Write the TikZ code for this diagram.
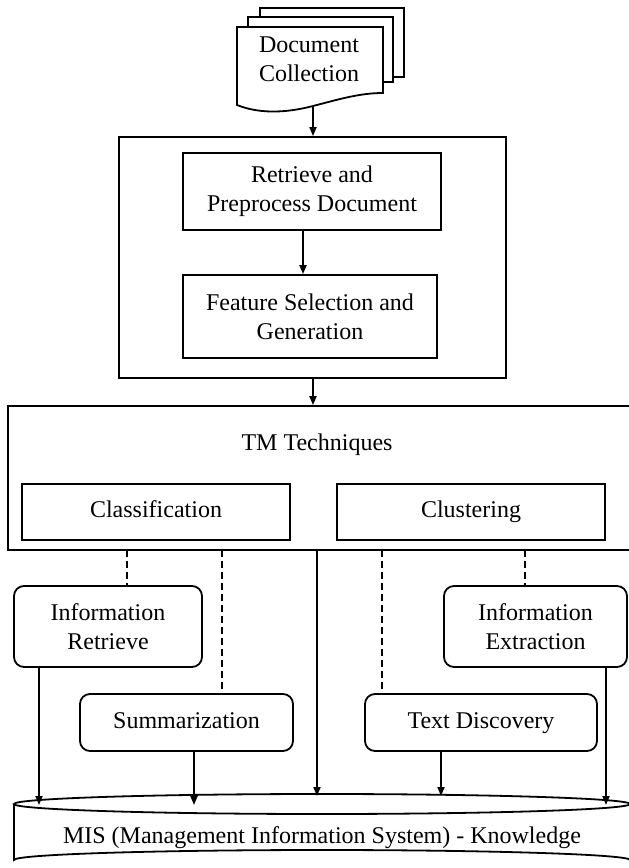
\documentclass[tikz,border=0pt]{standalone}
\usepackage{fontspec}
\setmainfont{Liberation Serif}
\usetikzlibrary{arrows.meta}
\begin{document}
\begin{tikzpicture}[x=1pt,y=-1pt,
  line width=1.8pt,
  every node/.style={font=\fontsize{24}{29}\selectfont, align=center, inner sep=0pt},
  one line/.style={text height=16pt, text depth=5pt},
  box/.style={draw, fill=white},
  rbox/.style={draw, fill=white, rounded corners=10pt},
  arr/.style={-{Triangle[length=9pt,width=7pt]}},
  dash line/.style={dashed, dash pattern=on 7pt off 4pt}]
\useasboundingbox (0,0) rectangle (629,868);

% stacked document symbol
\draw[fill=white] (260,8) rectangle (404,77);
\draw[fill=white] (248,17) rectangle (393,82);
\draw[fill=white] (237,27) -- (383,27) -- (383,93)
  .. controls (360,93) and (340,99) .. (313,106)
  .. controls (290,112) and (262,115) .. (237,105) -- cycle;
\node (doc) at (309,59) {Document\\Collection};
\coordinate (docb) at (313,106);

% preprocessing block
\node[box, minimum width=387pt, minimum height=241pt] (pre) at (312.5,257.5) {};
\node[box, minimum width=258pt, minimum height=77pt] (ret) at (312,191.5) {Retrieve and\\Preprocess Document};
\node[box, minimum width=254pt, minimum height=83pt] (feat) at (310,316.5) {Feature Selection and\\Generation};

% techniques block
\node[box, minimum width=630pt, minimum height=144pt] (tm) at (323,478) {};
\node[one line] (tmlabel) at (317,445) {TM Techniques};
\node[box, one line, minimum width=268pt, minimum height=56pt] (cls) at (156,512) {Classification};
\node[box, one line, minimum width=268pt, minimum height=56pt] (clu) at (471,512) {Clustering};

% applications
\node[rbox, minimum width=188pt, minimum height=81pt] (ir) at (108,626.5) {Information\\Retrieve};
\node[rbox, minimum width=183pt, minimum height=81pt] (ie) at (535.5,626.5) {Information\\Extraction};
\node[rbox, one line, minimum width=213pt, minimum height=57pt] (sum) at (186.5,722.5) {Summarization};
\node[rbox, one line, minimum width=232pt, minimum height=57pt] (td) at (481,722.5) {Text Discovery};

% knowledge store (cylinder)
\draw[fill=white] (14,804) -- (14,860) arc[start angle=180, end angle=360, x radius=308, y radius=10] -- (630,804);
\draw[fill=white] (322,804) ellipse[x radius=308, y radius=10];
\node[one line] (mis) at (322,838) {MIS (Management Information System) - Knowledge};

% end points on the store
\coordinate (k1) at (39,805);
\coordinate (k2) at (194,805);
\coordinate (k3) at (317,796);
\coordinate (k4) at (441,796);
\coordinate (k5) at (606,805);

% flow connectors
\draw[arr] (docb) -- (pre.north -| docb);
\draw[arr] ([xshift=-9pt]ret.south) -- ([xshift=-9pt]ret.south |- feat.north);
\draw[arr] (pre.south -| docb) -- (tm.north -| docb);

% dashed links from techniques
\draw[dash line] (127,550) coordinate (d1) -- (d1 |- ir.north);
\draw[dash line] (222,550) coordinate (d2) -- (d2 |- sum.north);
\draw[dash line] (382,550) coordinate (d3) -- (d3 |- td.north);
\draw[dash line] (525,550) coordinate (d4) -- (d4 |- ie.north);

% results into the store
\draw[arr] (ir.south -| k1) -- (k1);
\draw[arr] (sum.south -| k2) -- (k2);
\draw[arr] (tm.south -| k3) -- (k3);
\draw[arr] (td.south -| k4) -- (k4);
\draw[arr] (ie.south -| k5) -- (k5);
\end{tikzpicture}
\end{document}
